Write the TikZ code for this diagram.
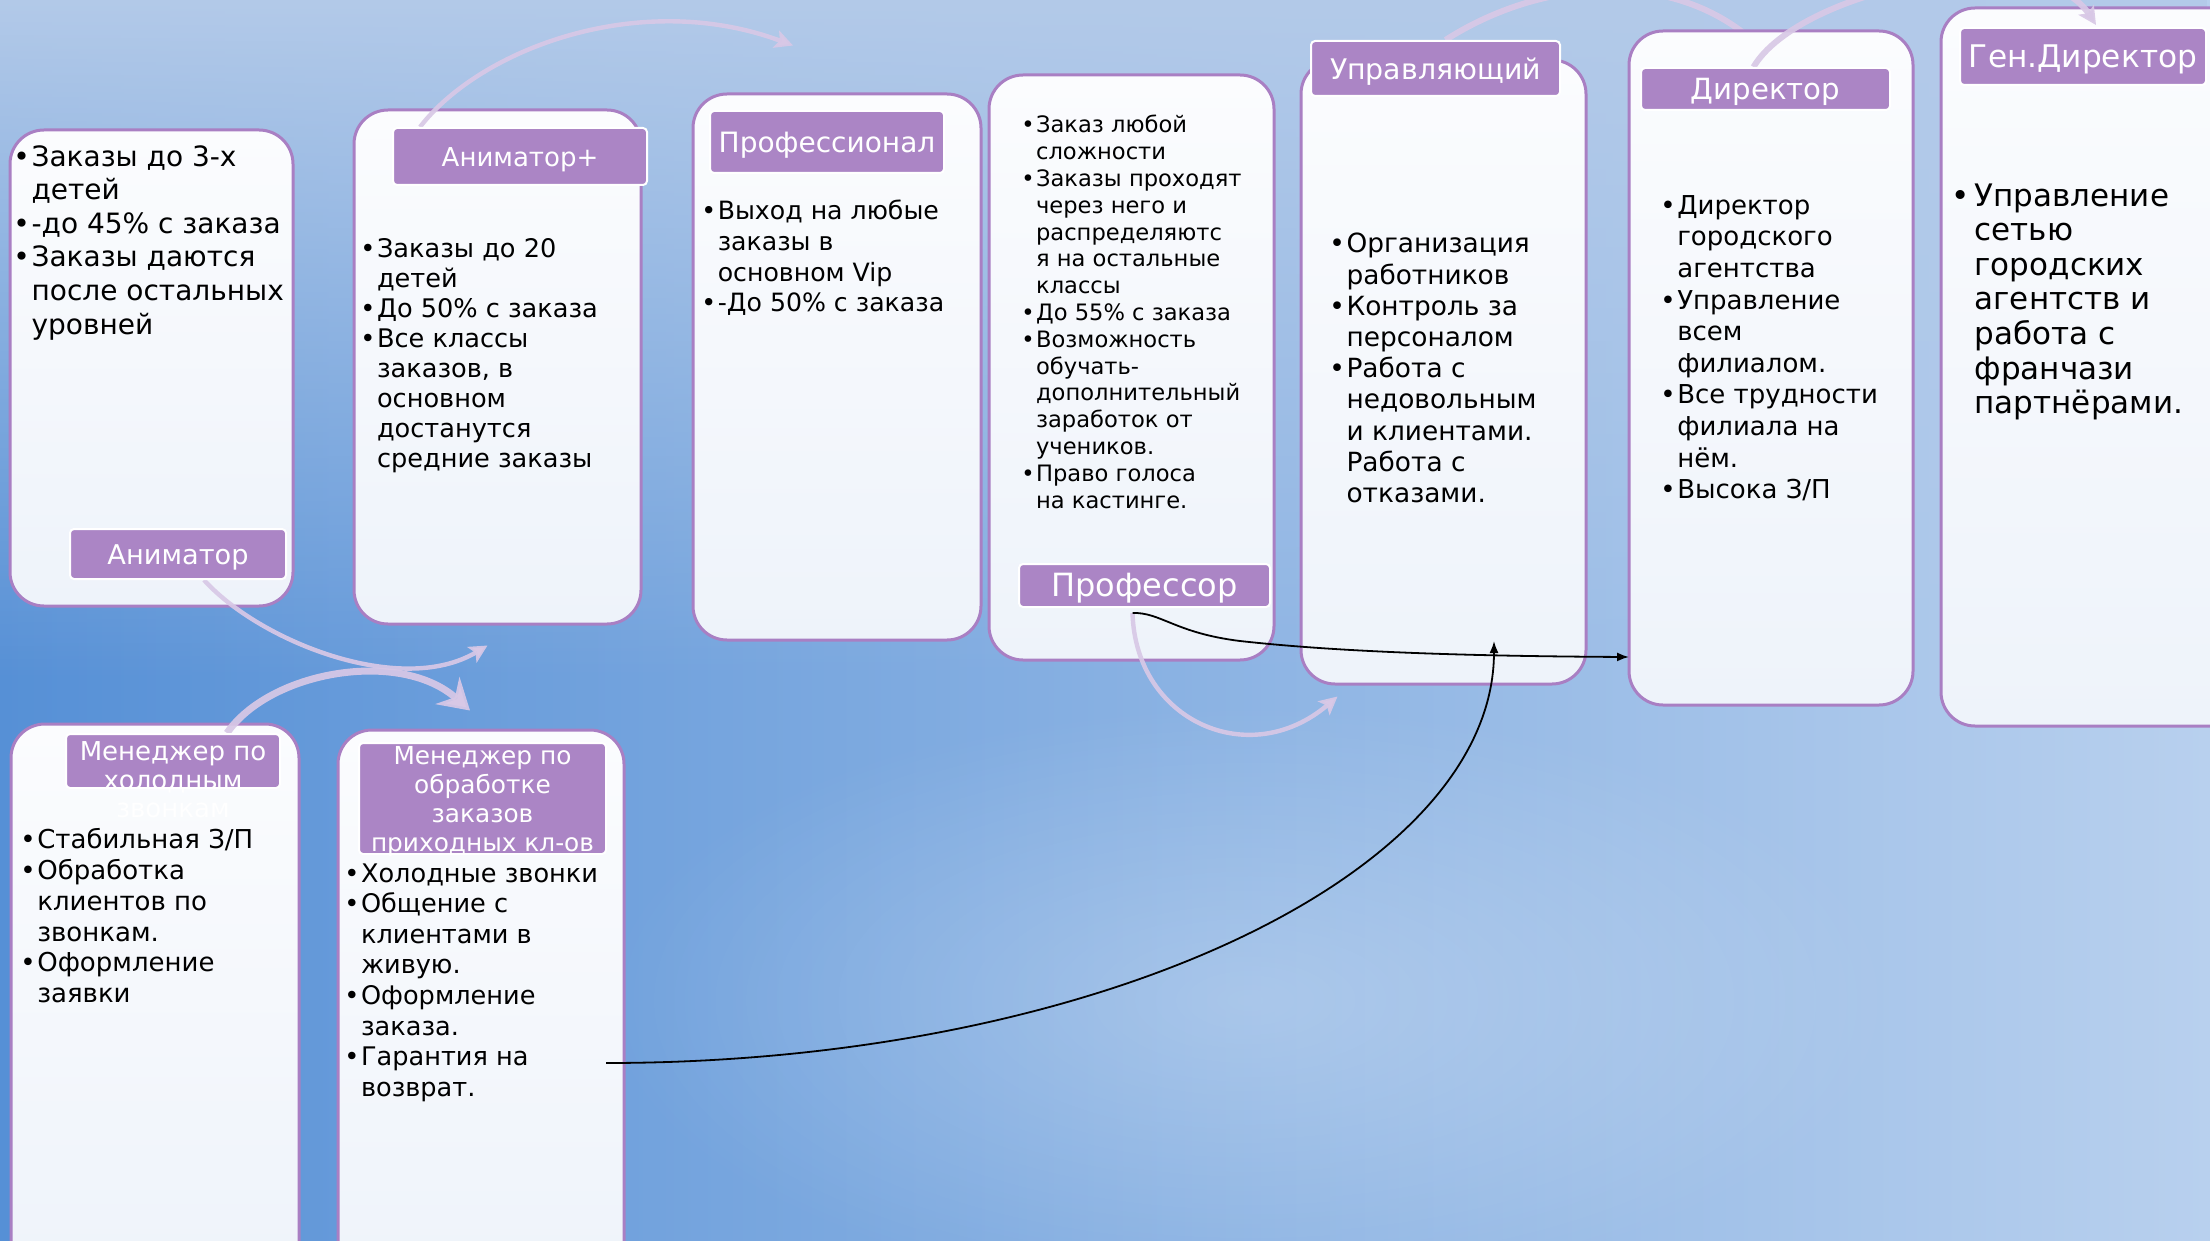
\documentclass[tikz,border=0pt]{standalone}
\usepackage{fontspec}
\setmainfont{DejaVu Sans}
\usepackage{xcolor}
\definecolor{slidepurple}{HTML}{AB85C5}
\definecolor{slideframe}{HTML}{A97FC3}
\definecolor{slidecardtop}{HTML}{FBFCFE}
\definecolor{slidecardbot}{HTML}{EEF3FA}
\definecolor{slidelilac}{HTML}{D8C8E6}
\definecolor{slidebgleft}{HTML}{5690D6}
\definecolor{slidebgright}{HTML}{B8D0EE}
\definecolor{slidebgtop}{HTML}{B3CAE9}
\usepackage{tikz}
\usetikzlibrary{arrows.meta,fit,fadings}

\tikzfading[name=fadedown, top color=transparent!0, bottom color=transparent!100]
\tikzfading[name=glow, inner color=transparent!75, outer color=transparent!100]

\pgfdeclarelayer{bg}
\pgfdeclarelayer{low}
\pgfdeclarelayer{cards}
\pgfdeclarelayer{arcs}
\pgfsetlayers{bg,low,cards,arcs,main}

\newcommand{\sz}[2]{\fontsize{#1}{#2}\selectfont}
\newcommand{\bul}{\makebox[0.65em][l]{•}}
\newcommand{\ind}{\hspace*{0.65em}}

\tikzset{
  card/.style={draw=slideframe, line width=1.5pt, rounded corners=17pt,
    top color=slidecardtop, bottom color=slidecardbot, inner sep=0pt},
  lab/.style={fill=slidepurple, draw=white, line width=1pt, rounded corners=2pt, inner sep=0pt},
  labtxt/.style={text=white, align=center, inner sep=0pt, yshift=-1.5pt},
  body/.style={anchor=north west, inner sep=0pt, align=left, text=black},
  lilac/.style={draw=slidelilac, draw opacity=0.92, line width=2.2pt,
    -{Stealth[length=9pt,width=9pt,inset=2pt]}},
  lilacwide/.style={lilac, line width=3pt},
  lilacbig/.style={lilac, line width=3.5pt, -{Stealth[length=15pt,width=18pt,inset=5pt]}},
  blackarrow/.style={draw=black, line width=0.9pt, -{Latex[length=6pt,width=4.5pt]}}
}

\begin{document}
\begin{tikzpicture}[x=0.5pt,y=-0.5pt]
\useasboundingbox (0,0) rectangle (2210,1241);
\clip (0,0) rectangle (2210,1241);

\begin{pgfonlayer}{bg}
\shade[left color=slidebgleft, right color=slidebgright] (0,0) rectangle (2210,1241);
\fill[slidebgtop, path fading=fadedown] (0,0) rectangle (2210,680);
\fill[white, path fading=glow] (1250,1000) ellipse (650 and 300);
\end{pgfonlayer}

\begin{pgfonlayer}{cards}
\node[card, fit={(10,130) (293,606)}] (c1) {};
\node[card, fit={(354,110) (641,624)}] (c2) {};
\node[card, fit={(693,94) (981,640)}] (c3) {};
\node[card, fit={(989,75) (1274,660)}] (c4) {};
\node[card, fit={(1301,60) (1586,684)}] (c5) {};
\node[card, fit={(1629,31) (1913,705)}] (c6) {};
\node[card, fit={(1941,8) (2250,726)}] (c7) {};
\node[card, fit={(11,724) (299,1300)}] (c8) {};
\node[card, fit={(338,730) (624,1300)}] (c9) {};
\end{pgfonlayer}

\node[lab, fit={(70,529) (286,579)}] (anim) {};
\node[lab, fit={(393,128) (647,185)}] (animp) {};
\node[lab, fit={(710,111) (944,173)}] (profi) {};
\node[lab, fit={(1019,564) (1270,607)}] (prof) {};
\node[lab, fit={(1311,41) (1560,96)}] (upr) {};
\node[lab, fit={(1641,68) (1890,110)}] (dir) {};
\node[lab, fit={(1960,28) (2206,85)}] (gen) {};
\node[lab, fit={(66,734) (280,788)}] (mhol) {};
\node[lab, fit={(359,743) (606,854)}] (mobr) {};

\node[labtxt, font=\sz{13.6}{16}] at (anim) {Аниматор};
\node[labtxt, font=\sz{13}{16}] at (animp) {Аниматор+};
\node[labtxt, font=\sz{14}{16}] at (profi) {Профессионал};
\node[labtxt, font=\sz{16}{18}] at (prof) {Профессор};
\node[labtxt, font=\sz{14.2}{16}] at (upr) {Управляющий};
\node[labtxt, font=\sz{14.6}{16}] at (dir) {Директор};
\node[labtxt, font=\sz{15.6}{18}] at (gen) {Ген.Директор};
\node[labtxt, font=\sz{13}{14.2}] at ([yshift=-8pt]mhol.center) {Менеджер по\\холодным\\звонкам};
\node[labtxt, font=\sz{12.4}{14.4}] at (mobr) {Менеджер по\\обработке\\заказов\\приходных кл-ов};

\node[body, font=\sz{14}{16.8}] (t1) at (13,145) {\bul Заказы до 3-х\\\ind детей\\\bul -до 45\% с заказа\\\bul Заказы даются\\\ind после остальных\\\ind уровней};
\node[body, font=\sz{12.8}{15}] (t2) at (360,238) {\bul Заказы до 20\\\ind детей\\\bul До 50\% с заказа\\\bul Все классы\\\ind заказов, в\\\ind основном\\\ind достанутся\\\ind средние заказы};
\node[body, font=\sz{12.6}{15.3}] (t3) at (701,200) {\bul Выход на любые\\\ind заказы в\\\ind основном Vip\\\bul -До 50\% с заказа};
\node[body, font=\sz{11.3}{13.4}] (t4) at (1021,115) {\bul Заказ любой\\\ind сложности\\\bul Заказы проходят\\\ind через него и\\\ind распределяютс\\\ind я на остальные\\\ind классы\\\bul До 55\% с заказа\\\bul Возможность\\\ind обучать-\\\ind дополнительный\\\ind заработок от\\\ind учеников.\\\bul Право голоса\\\ind на кастинге.};
\node[body, font=\sz{13.2}{15.6}] (t5) at (1329,233) {\bul Организация\\\ind работников\\\bul Контроль за\\\ind персоналом\\\bul Работа с\\\ind недовольным\\\ind и клиентами.\\\ind Работа с\\\ind отказами.};
\node[body, font=\sz{13}{15.8}] (t6) at (1660,195) {\bul Директор\\\ind городского\\\ind агентства\\\bul Управление\\\ind всем\\\ind филиалом.\\\bul Все трудности\\\ind филиала на\\\ind нём.\\\bul Высока З/П};
\node[body, font=\sz{15.5}{17.3}] (t7) at (1951,183) {\makebox[0.75em][l]{•}Управление\\\hspace*{0.75em}сетью\\\hspace*{0.75em}городских\\\hspace*{0.75em}агентств и\\\hspace*{0.75em}работа с\\\hspace*{0.75em}франчази\\\hspace*{0.75em}партнёрами.};
\node[body, font=\sz{13}{15.4}] (t8) at (20,828) {\bul Стабильная З/П\\\bul Обработка\\\ind клиентов по\\\ind звонкам.\\\bul Оформление\\\ind заявки};
\node[body, font=\sz{12.8}{15.3}] (t9) at (344,863) {\bul Холодные звонки\\\bul Общение с\\\ind клиентами в\\\ind живую.\\\bul Оформление\\\ind заказа.\\\bul Гарантия на\\\ind возврат.};

\coordinate (pfout) at ([xshift=-6pt,yshift=-2.5pt]prof.south);
\coordinate (dirin) at (1629,657);
\coordinate (obrout) at (606,1063);
\coordinate (uprin) at (1494,641);

\begin{pgfonlayer}{arcs}
\draw[lilac] ([xshift=13pt]anim.south) .. controls +(55,61) and +(-87,52) .. ([xshift=-5pt,yshift=-10pt]c2.south);
\draw[lilacbig] ([xshift=27pt]mhol.north) .. controls +(43,-62) and +(-70,-62) .. ([xshift=-5.5pt,yshift=9pt]c9.north);
\draw[lilac] ([xshift=-50pt]animp.north) .. controls +(60,-78) and +(-153,-57) .. ([xshift=-22pt,yshift=23.5pt]c3.north);
\draw[lilac] (pfout) .. controls +(3,108) and +(-88,75) .. ([xshift=-53pt,yshift=-5.5pt]c5.south);
\draw[lilacwide] ([xshift=-6pt]dir.north) .. controls +(46,-78) and +(-56,-86) .. ([xshift=6.5pt,yshift=1pt]gen.north);
\end{pgfonlayer}
\begin{pgfonlayer}{low}
\draw[lilacwide] ([xshift=5pt]upr.north) .. controls +(95,-61) and +(-92,-80) .. ([xshift=-4.5pt,yshift=-9.5pt]c6.north);
\end{pgfonlayer}

\draw[blackarrow] (pfout) .. controls +(28,-1) and +(-65,-8) .. (1240,641) .. controls +(90,10) and +(-180,-1) .. (dirin);
\draw[blackarrow] (obrout) .. controls +(490,0) and +(0,233) .. (uprin);
\end{tikzpicture}
\end{document}
